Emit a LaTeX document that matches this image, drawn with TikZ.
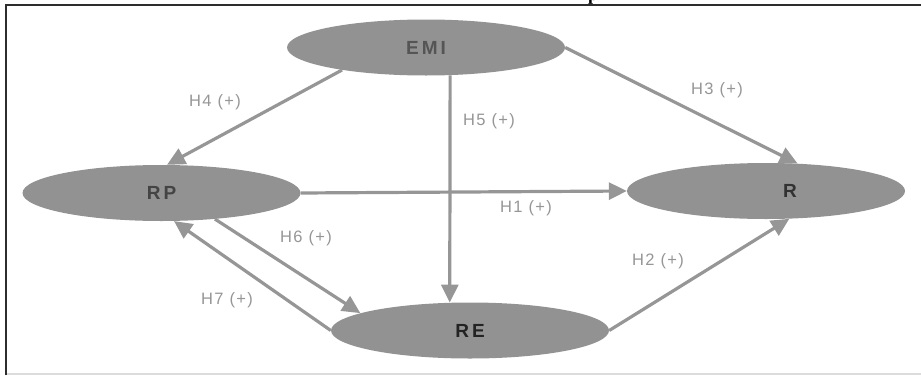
\documentclass[tikz,border=0pt]{standalone}
\usepackage{fontspec}
\setmainfont{Liberation Serif}
\newfontfamily\lblfont[LetterSpace=8]{Liberation Sans}
\newfontfamily\boldlbl[LetterSpace=16]{Liberation Sans Bold}
\usetikzlibrary{shapes.geometric, arrows.meta}
\definecolor{ellfill}{RGB}{146,146,146}
\definecolor{edgecol}{RGB}{150,150,150}
\definecolor{hlbl}{RGB}{150,150,150}
\definecolor{emicol}{RGB}{85,85,85}
\definecolor{rpcol}{RGB}{68,68,68}
\definecolor{rcol}{RGB}{50,50,50}
\definecolor{recol}{RGB}{35,35,35}
\definecolor{framecol}{RGB}{45,45,45}
\definecolor{basecol}{RGB}{220,220,220}
\tikzset{
  construct/.style={ellipse, fill=ellfill, inner sep=0pt, minimum width=278pt, minimum height=56pt},
  bigtxt/.style={font=\boldlbl\fontsize{19}{19}\selectfont},
  link/.style={draw=edgecol, line width=3.2pt, -{Triangle[length=18pt,width=17pt]}},
  hyp/.style={font=\lblfont\fontsize{16.5}{16.5}\selectfont, text=hlbl, inner sep=0pt}
}
\begin{document}
\begin{tikzpicture}[x=1pt,y=-1pt]
\useasboundingbox (0,0) rectangle (921,375);
% frame
\draw[framecol, line width=2pt] (6,375) -- (6,5) -- (921,5);
\draw[basecol, line width=1.5pt] (7,374) -- (921,374);
\node[anchor=base west, inner sep=0pt, font=\bfseries\fontsize{18}{18}\selectfont] (title) at (588,0) {p};
% constructs
\node[construct, bigtxt, text=emicol] (EMI) at (426,47.5) {EMI};
\node[construct, bigtxt, text=rpcol] (RP) at (161.5,193) {RP};
\node[construct] (R) at (766,191) {};
\node[bigtxt, text=rcol, inner sep=0pt] (Rlabel) at ([xshift=24pt]R.center) {R};
\node[construct, bigtxt, text=recol] (RE) at (470,330.5) {RE};
% paths
\draw[link] (EMI.195.2) -- (RP.79.3);
\draw[link] (EMI.311) -- (RE.126);
\draw[link] (EMI.east) -- (R.41.2);
\draw[link] (RP.east) -- (R.west);
\draw[link] (RP.334.1) -- (RE.171.5);
\draw[link] (RE.west) -- (RP.294.8);
\draw[link] (RE.east) -- (R.310.6);
% hypothesis labels
\node[hyp] (h4) at (215,102) {H4 (+)};
\node[hyp] (h5) at (489,121) {H5 (+)};
\node[hyp] (h3) at (717,90) {H3 (+)};
\node[hyp] (h1) at (526,208) {H1 (+)};
\node[hyp] (h6) at (306,238) {H6 (+)};
\node[hyp] (h7) at (227,300) {H7 (+)};
\node[hyp] (h2) at (658,261) {H2 (+)};
\end{tikzpicture}
\end{document}
